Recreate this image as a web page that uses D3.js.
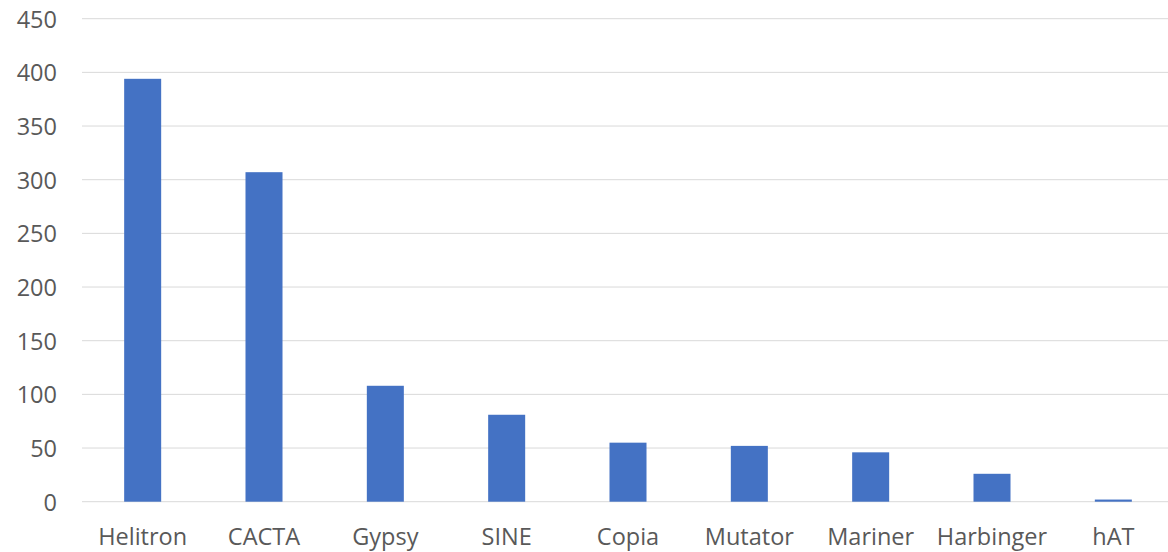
<!DOCTYPE html>
<html>
<head>
<meta charset="utf-8">
<script src="https://cdn.jsdelivr.net/npm/d3@7"></script>
<style>
  html, body { margin: 0; padding: 0; background: #fff; }
  svg { display: block; }
  .tick text { font-family: "Open Sans", Lato, sans-serif; fill: #595959; }
</style>
</head>
<body>
<svg id="chart" width="1168" height="552"></svg>
<script>
// Transposable element families and their counts
const families = ["Helitron", "CACTA", "Gypsy", "SINE", "Copia", "Mutator", "Mariner", "Harbinger", "hAT"];
const counts = [394, 307, 108, 81, 55, 52, 46, 26, 2];
const yTicks = [0, 50, 100, 150, 200, 250, 300, 350, 400, 450];

const svg = d3.select("#chart");
const plotLeft = 82, plotRight = 1174, plotTop = 18.7, plotBottom = 501.7;

const x = d3.scaleBand().domain(families).range([plotLeft, plotRight]).padding(0);
const y = d3.scaleLinear().domain([0, 450]).range([plotBottom, plotTop]);

// Horizontal gridlines
svg.append("g")
  .selectAll("line")
  .data(yTicks)
  .join("line")
  .attr("x1", plotLeft).attr("x2", plotRight)
  .attr("y1", d => y(d)).attr("y2", d => y(d))
  .attr("stroke", "#d9d9d9")
  .attr("stroke-width", 1);

// Y axis labels
const yAxis = svg.append("g")
  .attr("transform", `translate(${plotLeft - 25},0)`)
  .call(d3.axisLeft(y).tickValues(yTicks).tickSize(0).tickPadding(0));
yAxis.select(".domain").remove();
yAxis.selectAll("text").attr("font-size", 23.5).attr("dy", "0.36em");

// Bars
const barW = x.bandwidth() * 0.305;
svg.append("g")
  .selectAll("rect")
  .data(families.map((f, i) => ({ f, v: counts[i] })))
  .join("rect")
  .attr("x", d => x(d.f) + (x.bandwidth() - barW) / 2)
  .attr("width", barW)
  .attr("y", d => y(d.v))
  .attr("height", d => y(0) - y(d.v))
  .attr("fill", "#4472c4");

// X axis labels
const xAxis = svg.append("g")
  .attr("transform", `translate(0,${plotBottom})`)
  .call(d3.axisBottom(x).tickSize(0).tickPadding(0));
xAxis.select(".domain").remove();
xAxis.selectAll("text").attr("font-size", 23.5).attr("dy", "0").attr("y", 43);
</script>
</body>
</html>
